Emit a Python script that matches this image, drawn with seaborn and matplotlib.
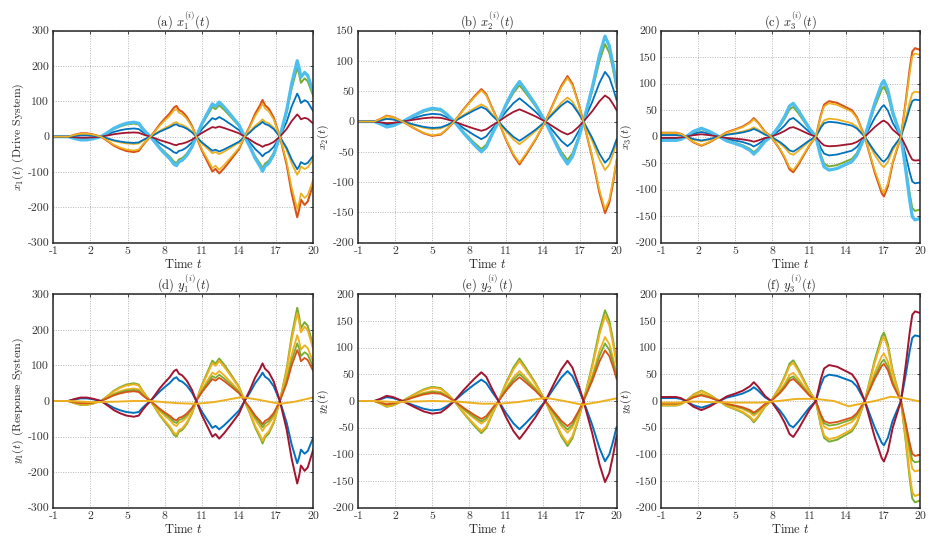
import numpy as np
import pandas as pd
import matplotlib
matplotlib.use("Agg")
import matplotlib.pyplot as plt
import seaborn as sns

# ---------------- data ----------------
# Reference waveform of component 1 (outermost light-blue trajectory, panel a)
T_A = [-1, 0.2, 0.7, 1.2, 1.7, 2.2, 2.85, 3.4, 3.9, 4.4, 4.9, 5.5, 5.9, 6.2, 6.5, 6.85,
       7.2, 7.6, 8.0, 8.4, 8.75, 8.95, 9.15, 9.4, 9.6, 9.8, 10.2, 10.55, 11.0, 11.5,
       11.85, 12.1, 12.4, 12.8, 13.35, 14.0, 14.45, 14.87, 15.3, 15.7, 15.9, 16.1,
       16.4, 16.8, 17.3, 17.85, 18.25, 18.7, 18.85, 19.0, 19.3, 19.55, 20.0]
BASE_A = [0, 0, -5, -9, -9, -6, 0, 12, 24, 32, 38, 41, 38, 24, 12, 0,
          -15, -33, -48, -62, -78, -82, -71, -67, -60, -52, -29, 0, 37, 70,
          93, 86, 98, 84, 61, 33, 0, -28, -61, -84, -98, -84,
          -75, -51, 0, 75, 150, 215, 196, 168, 182, 173, 126]
REF_A = 215

# component 2 (panel b)
T_B = [-1, 0.3, 0.8, 1.3, 1.8, 2.6, 3.5, 4.3, 5.0, 5.7, 6.2, 6.8, 7.6, 8.4, 9.0, 9.4,
       9.9, 10.4, 11.0, 11.6, 12.1, 12.6, 13.4, 14.2, 14.9, 15.5, 16.0, 16.4, 16.9,
       17.3, 18.0, 18.6, 19.05, 19.4, 19.7, 20.0]
BASE_B = [0, 0, -4, -9, -7, 0, 10, 18, 22, 20, 12, 0, -20, -38, -50, -42,
          -20, 0, 28, 52, 66, 52, 28, 0, -30, -55, -70, -58, -28,
          0, 55, 110, 141, 125, 95, 60]
REF_B = 141

# component 3 (panel c)
T_C = [-1, 0.2, 0.6, 1.0, 1.6, 2.25, 2.9, 3.7, 4.3, 5.0, 5.6, 6.2, 6.5, 6.85, 7.4, 7.9,
       8.6, 9.0, 9.4, 9.7, 10.1, 10.6, 11.0, 11.53, 11.93, 12.2, 12.6, 13.25, 13.9,
       14.45, 14.85, 15.5, 16.3, 16.87, 17.05, 17.37, 17.76, 18.43, 18.82, 19.14,
       19.35, 19.57, 20.0]
BASE_C = [-7, -7, -5, 0, 10, 16, 10, 0, -8, -13, -18, -26, -33, -25, -9, 0,
          22, 38, 58, 63, 50, 31, 16, 0, -38, -57, -63, -60, -53,
          -47, -35, 0, 63, 100, 106, 88, 47, 0, -63, -120,
          -151, -157, -154]
REF_C = -157

# drive-system trajectories: value of each agent at the reference peak
DRIVE_COLORS = ["#0072BD", "#D95319", "#EDB120", "#77AC30", "#4DBEEE", "#A2142F", "#0072BD", "#EDB120"]
DRIVE_WIDTHS = [1.3, 1.5, 1.3, 1.4, 2.3, 1.3, 1.3, 1.2]
AMP_A = [122, -228, -108, 195, 215, 63, -92, -205]
AMP_B = [82, -151, -80, 128, 141, 43, -68, -145]
AMP_C = [-88, 167, 85, -140, -157, -45, 70, 157]

# response-system trajectories
RESP_COLORS = ["#77AC30", "#EDB120", "#EDB120", "#77AC30", "#D95319", "#0072BD", "#A2142F"]
RESP_WIDTHS = [1.4, 1.4, 1.3, 1.3, 1.3, 1.4, 1.4]
AMP_D = [262, 247, 185, 162, 143, -175, -232]
AMP_E = [170, 160, 120, 108, 95, -113, -152]
AMP_F = [-190, -178, -132, -115, -103, 123, 168]

# nearly flat (yellow) response trajectory
FLAT_D_T = [-1, 0.3, 2, 4, 5.5, 6.8, 9.0, 10.5, 12.0, 14.2, 15.5, 17.3, 18.5, 20]
FLAT_D_V = [0, 0, -3, -2, 0, 0, -6, -8, -3, 11, 4, -8, -2, 10]
FLAT_E_T = [-1, 0.3, 2, 5, 7, 9, 10.5, 12, 14.2, 15.5, 17.2, 18.5, 20]
FLAT_E_V = [0, 0, -2, 0, -1, -5, -5, -2, 6, 1, -7, -2, 5]
FLAT_F_T = [-1, 0.3, 1.5, 3, 5, 7, 8.5, 10, 11.5, 13, 14.2, 15, 16.5, 17.6, 18.5, 20]
FLAT_F_V = [-3, -3, -1, -2, -3, -3, 0, 4, 4, 0, -10, -6, 1, 8, 6, -1]
FLAT_COLOR = "#EDB120"

X_TICKS = [-1, 2, 5, 8, 11, 14, 17, 20]
X_TICK_LABELS = ["-1", "2", "5", "8", "11", "14", "17", "20"]
Y_TICKS_300 = [-300, -200, -100, 0, 100, 200, 300]
Y_TICKS_B = [-200, -150, -100, -50, 0, 50, 100, 150]
Y_TICKS_200 = [-200, -150, -100, -50, 0, 50, 100, 150, 200]

TITLES = [r"(a) $x_1^{(i)}(t)$", r"(b) $x_2^{(i)}(t)$", r"(c) $x_3^{(i)}(t)$",
          r"(d) $y_1^{(i)}(t)$", r"(e) $y_2^{(i)}(t)$", r"(f) $y_3^{(i)}(t)$"]
YLABELS = [r"$x_1(t)$ (Drive System)", r"$x_2(t)$", r"$x_3(t)$",
           r"$y_1(t)$ (Response System)", r"$y_2(t)$", r"$y_3(t)$"]
XLABEL = r"Time $t$"

# ---------------- styling ----------------
sns.set_style("white")
plt.rcParams["font.family"] = ["cmr10", "DejaVu Serif"]
plt.rcParams["mathtext.fontset"] = "cm"
plt.rcParams["axes.formatter.use_mathtext"] = True
plt.rcParams["axes.unicode_minus"] = False

W, H = 937, 551
fig = plt.figure(figsize=(W / 100, H / 100), dpi=100)

cols = [(53.3, 313.3), (358.3, 616.7), (661.3, 920.3)]
rows = [(30.7, 242.7), (294.3, 507.7)]


def make_ax(r, c):
    (x0, x1), (y0, y1) = cols[c], rows[r]
    return fig.add_axes([x0 / W, 1 - y1 / H, (x1 - x0) / W, (y1 - y0) / H])


def draw_group(ax, t, base, ref, amps, colors, widths):
    base = np.asarray(base, dtype=float)
    for amp, col, lw in zip(amps, colors, widths):
        df = pd.DataFrame({"t": t, "v": base * amp / ref})
        sns.lineplot(data=df, x="t", y="v", ax=ax, color=col, linewidth=lw,
                     estimator=None, sort=False, legend=False)


def draw_single(ax, t, v, col, lw=1.4):
    df = pd.DataFrame({"t": t, "v": v})
    sns.lineplot(data=df, x="t", y="v", ax=ax, color=col, linewidth=lw,
                 estimator=None, sort=False, legend=False)


def style(ax, idx, yticks):
    ax.set_xlim(-1, 20)
    ax.set_ylim(yticks[0], yticks[-1])
    ax.set_xticks(X_TICKS, X_TICK_LABELS)
    ax.set_yticks(yticks, [str(v) for v in yticks])
    ax.grid(True, linestyle=(0, (1, 1.5)), color="#b5b5b5", linewidth=0.7)
    ax.set_axisbelow(True)
    for s in ax.spines.values():
        s.set_color("#262626")
        s.set_linewidth(1.1)
    ax.tick_params(direction="in", length=2.5, width=0.6, colors="#262626",
                   labelsize=8.5, top=True, right=True, pad=3)
    for lab in ax.get_xticklabels() + ax.get_yticklabels():
        lab.set_color("#333333")
    ax.set_title(TITLES[idx], fontsize=9, pad=4)
    ax.set_xlabel(XLABEL, fontsize=9, labelpad=1)
    ax.set_ylabel(YLABELS[idx], fontsize=8.5, labelpad=1)


axes = [make_ax(r, c) for r in range(2) for c in range(3)]

draw_group(axes[0], T_A, BASE_A, REF_A, AMP_A, DRIVE_COLORS, DRIVE_WIDTHS)
draw_group(axes[1], T_B, BASE_B, REF_B, AMP_B, DRIVE_COLORS, DRIVE_WIDTHS)
draw_group(axes[2], T_C, BASE_C, REF_C, AMP_C, DRIVE_COLORS, DRIVE_WIDTHS)
draw_group(axes[3], T_A, BASE_A, REF_A, AMP_D, RESP_COLORS, RESP_WIDTHS)
draw_group(axes[4], T_B, BASE_B, REF_B, AMP_E, RESP_COLORS, RESP_WIDTHS)
draw_group(axes[5], T_C, BASE_C, REF_C, AMP_F, RESP_COLORS, RESP_WIDTHS)
draw_single(axes[3], FLAT_D_T, FLAT_D_V, FLAT_COLOR)
draw_single(axes[4], FLAT_E_T, FLAT_E_V, FLAT_COLOR)
draw_single(axes[5], FLAT_F_T, FLAT_F_V, FLAT_COLOR)

for i, yt in enumerate([Y_TICKS_300, Y_TICKS_B, Y_TICKS_200, Y_TICKS_300, Y_TICKS_200, Y_TICKS_200]):
    style(axes[i], i, yt)

fig.savefig("out.png", dpi=100)
